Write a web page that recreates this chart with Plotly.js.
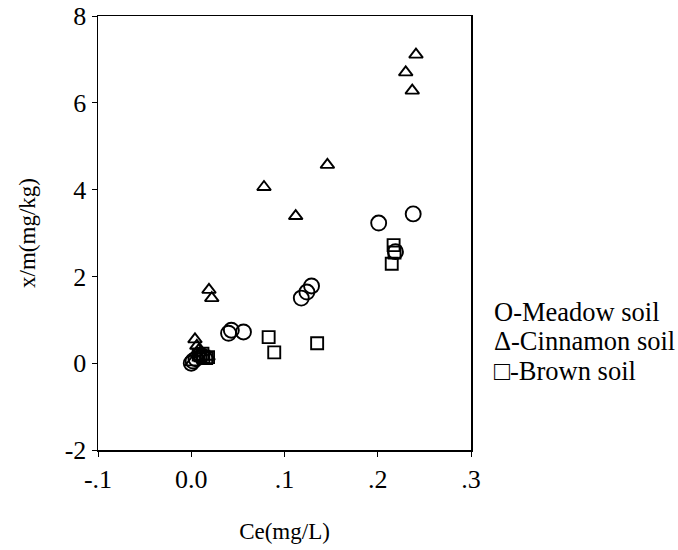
<!DOCTYPE html>
<html>
<head>
<meta charset="utf-8">
<script src="https://cdn.plot.ly/plotly-3.0.1.min.js"></script>
<style>html,body{margin:0;padding:0;background:#fff;}#chart{width:678px;height:550px;}</style>
</head>
<body>
<div id="chart"></div>
<script>
// Meadow soil (circles)
const meadowX = [0.000, 0.002, 0.005, 0.040, 0.043, 0.056, 0.118, 0.124, 0.129, 0.201, 0.219, 0.238];
const meadowY = [0.00, 0.05, 0.10, 0.69, 0.76, 0.72, 1.50, 1.64, 1.78, 3.23, 2.57, 3.44];
// Cinnamon soil (triangles)
const cinnamonX = [0.001, 0.004, 0.006, 0.008, 0.010, 0.018, 0.019, 0.022, 0.078, 0.112, 0.146, 0.230, 0.237, 0.241];
const cinnamonY = [0.02, 0.55, 0.40, 0.30, 0.25, 0.15, 1.69, 1.50, 4.06, 3.39, 4.57, 6.70, 6.28, 7.11];
// Brown soil (squares)
const brownX = [0.008, 0.010, 0.012, 0.013, 0.016, 0.018, 0.083, 0.089, 0.135, 0.215, 0.217, 0.218];
const brownY = [0.20, 0.18, 0.22, 0.15, 0.12, 0.14, 0.60, 0.25, 0.46, 2.29, 2.72, 2.55];

const xTickVals = [-0.1, 0, 0.1, 0.2, 0.3];
const xTickText = ["-.1", "0.0", ".1", ".2", ".3"];
const yTickVals = [-2, 0, 2, 4, 6, 8];
const yTickText = ["-2", "0", "2", "4", "6", "8"];
const legendLabels = ["O-Meadow soil", "\u0394-Cinnamon soil", "\u25A1-Brown soil"];

const font = "Liberation Serif, Times New Roman, serif";
const mk = (sym, size) => ({symbol: sym, size: size, color: "#000", line: {color: "#000", width: 1.9}});

const traces = [
  {x: meadowX, y: meadowY, mode: "markers", type: "scatter", marker: mk("circle-open", 15), name: legendLabels[0]},
  {x: cinnamonX, y: cinnamonY, mode: "markers", type: "scatter", marker: mk("triangle-up-open", 12), name: legendLabels[1]},
  {x: brownX, y: brownY, mode: "markers", type: "scatter", marker: mk("square-open", 12), name: legendLabels[2]}
];

const legendY = [312, 341, 371];
const annotations = legendLabels.map((t, i) => ({
  text: t, xref: "paper", yref: "paper", x: (492 - 98) / (471 - 98), y: (450 - legendY[i]) / (450 - 16),
  xanchor: "left", yanchor: "middle", showarrow: false, font: {family: font, size: 26.5, color: "#000"}
}));

const layout = {
  width: 678, height: 550,
  margin: {l: 98, r: 207, t: 16, b: 100},
  paper_bgcolor: "#fff", plot_bgcolor: "#fff",
  showlegend: false,
  font: {family: font, size: 24, color: "#000"},
  xaxis: {
    range: [-0.1, 0.3], tickvals: xTickVals, ticktext: xTickText,
    tickfont: {family: font, size: 26, color: "#000"},
    showgrid: false, zeroline: false, showline: true, linecolor: "#000", linewidth: 1.5, mirror: true,
    ticks: "outside", ticklen: 5, tickcolor: "#000",
    title: {text: "Ce(mg/L)", standoff: 30, font: {family: font, size: 23}}
  },
  yaxis: {
    range: [-2, 8], tickvals: yTickVals, ticktext: yTickText,
    tickfont: {family: font, size: 26, color: "#000"},
    showgrid: false, zeroline: false, showline: true, linecolor: "#000", linewidth: 1.5, mirror: true,
    ticks: "outside", ticklen: 5, tickcolor: "#000",
    title: {text: "x/m(mg/kg)", standoff: 22, font: {family: font, size: 23}}
  },
  annotations: annotations
};

Plotly.newPlot("chart", traces, layout, {displayModeBar: false, staticPlot: true});
</script>
</body>
</html>
